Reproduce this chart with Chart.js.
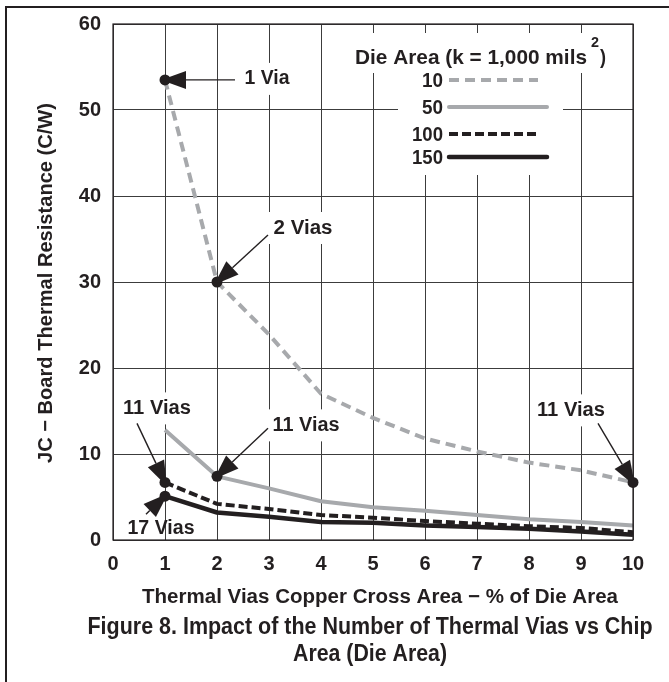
<!DOCTYPE html>
<html>
<head>
<meta charset="utf-8">
<script src="https://cdn.jsdelivr.net/npm/chart.js@4.4.1/dist/chart.umd.min.js"></script>
<style>
  html, body { margin: 0; padding: 0; background: #fff; }
  #wrap { position: relative; width: 669px; height: 682px; }
</style>
</head>
<body>
<div id="wrap"><canvas id="chart" width="669" height="682"></canvas></div>
<script>
// % of die area (x) and thermal resistance (C/W) per die area
const xValues = [1, 2, 3, 4, 5, 6, 7, 8, 9, 10];
const area10 = [53.5, 30.0, 23.9, 17.0, 14.2, 11.8, 10.3, 9.0, 8.1, 6.7];
const area50 = [12.8, 7.4, 6.0, 4.5, 3.8, 3.4, 2.9, 2.4, 2.1, 1.7];
const area100 = [6.7, 4.2, 3.6, 2.9, 2.6, 2.2, 1.9, 1.6, 1.4, 0.9];
const area150 = [5.1, 3.2, 2.7, 2.1, 2.0, 1.7, 1.5, 1.3, 1.0, 0.6];
const seriesNames = ["10", "50", "100", "150"];

const xTicks = [0, 1, 2, 3, 4, 5, 6, 7, 8, 9, 10];
const yTicks = [0, 10, 20, 30, 40, 50, 60];

// callout markers
const calloutText = ["1 Via", "2 Vias", "11 Vias", "11 Vias", "17 Vias", "11 Vias"];
const calloutX = [1, 2, 1, 2, 1, 10];
const calloutY = [53.5, 30.0, 6.7, 7.4, 5.1, 6.7];

const INK = "#231f20";
const GREY = "#a7a9ac";
const FONT = '"Liberation Sans", Arial, sans-serif';

const toPoints = (ys) => ys.map((y, i) => ({ x: xValues[i], y: y }));

// text squeezed/stretched to the width measured in the reference
function fitText(ctx, text, cx, cy, width, size, rot) {
  ctx.save();
  ctx.font = "bold " + size + "px " + FONT;
  ctx.fillStyle = INK;
  ctx.textAlign = "center";
  ctx.textBaseline = "middle";
  const w = ctx.measureText(text).width;
  ctx.translate(cx, cy);
  if (rot) ctx.rotate(rot);
  ctx.scale(width / w, 1);
  ctx.fillText(text, 0, 0);
  ctx.restore();
}

function arrow(ctx, x1, y1, x2, y2) {
  const ang = Math.atan2(y2 - y1, x2 - x1);
  const len = 25, half = 9;
  const bx = x2 - Math.cos(ang) * len, by = y2 - Math.sin(ang) * len;
  ctx.save();
  ctx.strokeStyle = INK;
  ctx.fillStyle = INK;
  ctx.lineWidth = 1.4;
  ctx.beginPath();
  ctx.moveTo(x1, y1);
  ctx.lineTo(bx, by);
  ctx.stroke();
  ctx.beginPath();
  ctx.moveTo(x2, y2);
  ctx.lineTo(bx + Math.sin(ang) * half, by - Math.cos(ang) * half);
  ctx.lineTo(bx - Math.sin(ang) * half, by + Math.cos(ang) * half);
  ctx.closePath();
  ctx.fill();
  ctx.restore();
}

// where each callout label sits relative to its dot: text centre, text width,
// arrow tail, and whether a white patch hides the grid behind the label
const calloutLayout = [
  { tx: 102, ty: -1, w: 45, ax: 70, ay: 0, pad: true },
  { tx: 86, ty: -54, w: 59, ax: 51, ay: -47, pad: true },
  { tx: -8, ty: -74, w: 68, ax: -28, ay: -59, pad: true },
  { tx: 89, ty: -51, w: 67, ax: 51, ay: -48, pad: true },
  { tx: -4, ty: 32, w: 67, ax: -19, ay: 18, pad: false },
  { tx: -62, ty: -72, w: 68, ax: -35, ay: -59, pad: true },
];

const decor = {
  id: "decor",
  beforeDatasetsDraw(chart) {
    const ctx = chart.ctx;
    const xs = chart.scales.x, ys = chart.scales.y;
    ctx.save();
    ctx.fillStyle = "#fff";
    // legend patch
    ctx.fillRect(350, 33, 256, 40);
    ctx.fillRect(398, 72, 165, 103);
    calloutText.forEach((t, i) => {
      const L = calloutLayout[i];
      if (!L.pad) return;
      const px = xs.getPixelForValue(calloutX[i]);
      const py = ys.getPixelForValue(calloutY[i]);
      ctx.fillRect(px + L.tx - L.w / 2 - 6, py + L.ty - 16, L.w + 12, 32);
    });
    ctx.restore();
  },
  afterDraw(chart) {
    const ctx = chart.ctx;
    const a = chart.chartArea;
    const xs = chart.scales.x, ys = chart.scales.y;

    // outer figure frame
    ctx.save();
    ctx.strokeStyle = INK;
    ctx.lineWidth = 2;
    ctx.beginPath();
    ctx.moveTo(6, 682);
    ctx.lineTo(6, 7);
    ctx.lineTo(669, 7);
    ctx.stroke();
    // plot frame
    ctx.lineWidth = 1.2;
    ctx.strokeRect(a.left, a.top, a.right - a.left, a.bottom - a.top);
    ctx.restore();

    // callouts
    calloutText.forEach((t, i) => {
      const L = calloutLayout[i];
      const px = xs.getPixelForValue(calloutX[i]);
      const py = ys.getPixelForValue(calloutY[i]);
      const ang = Math.atan2(-L.ay, -L.ax);
      arrow(ctx, px + L.ax, py + L.ay, px + Math.cos(ang) * 4, py + Math.sin(ang) * 4);
      fitText(ctx, t, px + L.tx, py + L.ty, L.w, 20);
    });

    // legend
    fitText(ctx, "Die Area (k = 1,000 mils", 471, 58, 232, 21);
    fitText(ctx, "2", 595, 43, 8, 15);
    fitText(ctx, ")", 603, 58, 6, 21);
    const rowY = [80, 107, 134, 157];
    const rowEnd = [538, 547, 538, 547];
    chart.data.datasets.slice(0, 4).forEach((ds, i) => {
      const w = [21, 21, 31, 31][i];
      fitText(ctx, seriesNames[i], 443 - w / 2, rowY[i] + 1, w, 20);
      ctx.save();
      ctx.strokeStyle = ds.borderColor;
      ctx.lineWidth = ds.borderWidth;
      ctx.lineCap = ds.borderDash.length ? "butt" : "round";
      ctx.setLineDash(ds.borderDash);
      ctx.beginPath();
      ctx.moveTo(449, rowY[i]);
      ctx.lineTo(rowEnd[i], rowY[i]);
      ctx.stroke();
      ctx.restore();
    });

    // axis titles and figure caption
    fitText(ctx, "JC \u2212 Board Thermal Resistance (C/W)", 46, 283, 360, 20, -Math.PI / 2);
    fitText(ctx, "Thermal Vias Copper Cross Area \u2212 % of Die Area", 380, 597, 476, 20);
    fitText(ctx, "Figure 8. Impact of the Number of Thermal Vias vs Chip", 370, 628, 565, 23);
    fitText(ctx, "Area (Die Area)", 370, 655, 154, 23);
  },
};

const chart = new Chart(document.getElementById("chart"), {
  type: "line",
  plugins: [decor],
  data: {
    datasets: [
      { label: seriesNames[0], data: toPoints(area10), borderColor: GREY, borderWidth: 4, borderDash: [10, 6], order: 3 },
      { label: seriesNames[1], data: toPoints(area50), borderColor: GREY, borderWidth: 4, borderDash: [], order: 2 },
      { label: seriesNames[2], data: toPoints(area100), borderColor: INK, borderWidth: 4, borderDash: [9, 4], order: 1 },
      { label: seriesNames[3], data: toPoints(area150), borderColor: INK, borderWidth: 4.5, borderDash: [], order: 0 },
      {
        type: "scatter",
        label: "callouts",
        data: calloutX.map((x, i) => ({ x: x, y: calloutY[i] })),
        pointRadius: 5.5,
        pointBackgroundColor: INK,
        pointBorderWidth: 0,
        showLine: false,
        order: -1,
      },
    ],
  },
  options: {
    responsive: false,
    animation: false,
    clip: false,
    layout: { padding: { top: 21, right: 36, left: 0, bottom: 0 } },
    elements: { point: { radius: 0 }, line: { tension: 0, borderCapStyle: "butt", borderJoinStyle: "round" } },
    plugins: { legend: { display: false }, tooltip: { enabled: false } },
    scales: {
      x: {
        type: "linear",
        min: 0,
        max: 10,
        afterFit: (s) => { s.height = 142; },
        afterBuildTicks: (s) => { s.ticks = xTicks.map((v) => ({ value: v })); },
        grid: { color: "#3c3c3c", lineWidth: 1, drawTicks: false },
        border: { display: false },
        ticks: { color: INK, font: { family: FONT, size: 20, weight: "bold" }, padding: 12, maxRotation: 0, autoSkip: false },
      },
      y: {
        min: 0,
        max: 60,
        afterFit: (s) => { s.width = 113; },
        afterBuildTicks: (s) => { s.ticks = yTicks.map((v) => ({ value: v })); },
        grid: { color: "#3c3c3c", lineWidth: 1, drawTicks: false },
        border: { display: false },
        ticks: { color: INK, font: { family: FONT, size: 20, weight: "bold" }, padding: 12 },
      },
    },
  },
});
</script>
</body>
</html>
